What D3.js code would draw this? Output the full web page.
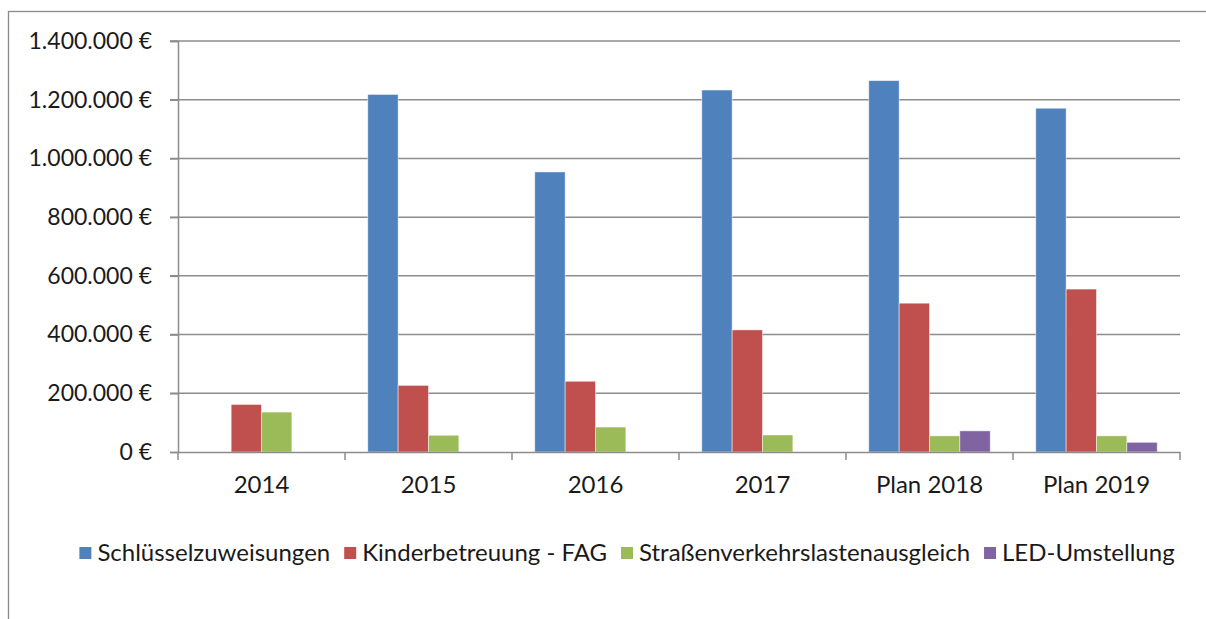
<!DOCTYPE html>
<html>
<head>
<meta charset="utf-8">
<script src="https://cdn.jsdelivr.net/npm/d3@7"></script>
<style>
  body { margin: 0; background: #fff; }
  text { font-family: Lato, "Open Sans", sans-serif; fill: #1a1a1a; }
</style>
</head>
<body>
<div id="chart"></div>
<script>
// Data
const categories = ["2014", "2015", "2016", "2017", "Plan 2018", "Plan 2019"];
const seriesNames = ["Schlüsselzuweisungen", "Kinderbetreuung - FAG", "Straßenverkehrslastenausgleich", "LED-Umstellung"];
const schluessel = [0, 1218000, 954000, 1233000, 1265000, 1171000];
const kinder = [162000, 227000, 241000, 416000, 507000, 555000];
const strassen = [136000, 57000, 85000, 58000, 55000, 55000];
const led = [0, 0, 0, 0, 72000, 33000];
const yTicks = [0, 200000, 400000, 600000, 800000, 1000000, 1200000, 1400000];
const colors = ["#4F81BD", "#C0504D", "#9BBB59", "#8064A2"];

const values = [schluessel, kinder, strassen, led];

const W = 1206, H = 619;
const margin = {top: 41, right: 26, bottom: 167, left: 178};
const width = W - margin.left - margin.right;
const height = H - margin.top - margin.bottom;

const svg = d3.select("#chart").append("svg")
    .attr("width", W)
    .attr("height", H);

// Outer frame
svg.append("rect")
    .attr("x", 8.5).attr("y", 11.5)
    .attr("width", W + 10).attr("height", H + 10)
    .attr("fill", "none")
    .attr("stroke", "#8a8a8a")
    .attr("stroke-width", 1.3);

const g = svg.append("g")
    .attr("transform", `translate(${margin.left},${margin.top})`);

// Scales
const x0 = d3.scaleBand()
    .domain(categories)
    .range([0, width])
    .paddingInner(0)
    .paddingOuter(0);

// Excel gap width 150% -> bars take 4 / 5.5 of the category
const x1 = d3.scaleBand()
    .domain(d3.range(seriesNames.length))
    .range([x0.bandwidth() * 0.75 / 5.5, x0.bandwidth() - x0.bandwidth() * 0.75 / 5.5]);

const y = d3.scaleLinear()
    .domain([0, 1400000])
    .range([height, 0]);

const fmt = v => d3.format(",")(v).replace(/,/g, ".") + " €";

// Gridlines
g.append("g")
    .selectAll("line")
    .data(yTicks.slice(1))
    .join("line")
    .attr("x1", -8).attr("x2", width)
    .attr("y1", d => y(d)).attr("y2", d => y(d))
    .attr("stroke", "#8c8c8c")
    .attr("stroke-width", 1.5);

// Y axis
const yAxis = g.append("g")
    .call(d3.axisLeft(y).tickValues(yTicks).tickFormat(fmt).tickSize(8).tickPadding(18));
yAxis.select(".domain").attr("stroke", "#8c8c8c").attr("stroke-width", 1.5);
yAxis.selectAll(".tick line").attr("stroke", "#8c8c8c").attr("stroke-width", 1.5);
yAxis.selectAll(".tick text")
    .style("font-size", "23px")
    .style("font-family", "Lato, 'Open Sans', sans-serif")
    .attr("fill", "#1a1a1a");

// Bars
const groups = g.selectAll(".cat")
    .data(categories)
    .join("g")
    .attr("class", "cat")
    .attr("transform", d => `translate(${x0(d)},0)`);

groups.selectAll("rect")
    .data((d, i) => values.map((s, k) => ({k, v: s[i]})))
    .join("rect")
    .filter(d => d.v > 0)
    .attr("x", d => x1(d.k))
    .attr("width", x1.bandwidth())
    .attr("y", d => y(d.v))
    .attr("height", d => y(0) - y(d.v))
    .attr("fill", d => colors[d.k])
    .attr("stroke", "#ffffff")
    .attr("stroke-opacity", 0.6)
    .attr("stroke-width", 0.8);

// X axis
const xAxis = g.append("g")
    .attr("transform", `translate(0,${height})`)
    .call(d3.axisBottom(x0).tickSize(0).tickPadding(24));
xAxis.select(".domain").attr("stroke", "#8c8c8c").attr("stroke-width", 1.5);
xAxis.selectAll(".tick text")
    .style("font-size", "24px")
    .style("font-family", "Lato, 'Open Sans', sans-serif")
    .attr("fill", "#1a1a1a");

// Category separator ticks
g.append("g")
    .selectAll("line")
    .data(d3.range(categories.length + 1))
    .join("line")
    .attr("x1", d => d * x0.step()).attr("x2", d => d * x0.step())
    .attr("y1", height).attr("y2", height + 8)
    .attr("stroke", "#8c8c8c")
    .attr("stroke-width", 1.5);

// Legend
const legend = svg.append("g").attr("transform", "translate(0,553)");
let lx = 0;
const items = legend.selectAll(".item")
    .data(seriesNames)
    .join("g")
    .attr("class", "item");
items.append("rect")
    .attr("width", 12).attr("height", 12)
    .attr("y", -6)
    .attr("fill", (d, i) => colors[i]);
items.append("text")
    .attr("x", 18)
    .attr("dy", "0.35em")
    .style("font-size", "24px")
    .text(d => d);
items.each(function() {
    const w = this.querySelector("text").getComputedTextLength();
    d3.select(this).attr("transform", `translate(${lx},0)`);
    lx += 18 + w + 14;
});
const totalW = lx - 14;
legend.attr("transform", `translate(${627 - totalW / 2},553)`);
</script>
</body>
</html>
